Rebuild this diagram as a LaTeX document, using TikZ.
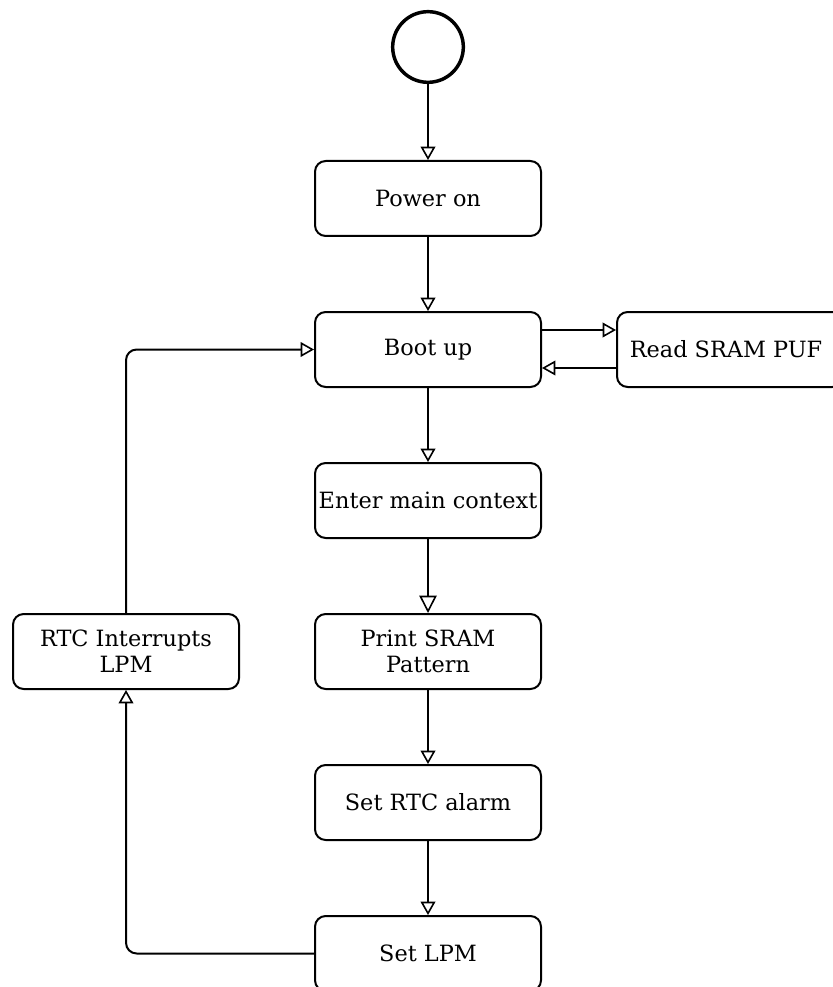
\documentclass[tikz,border=0pt]{standalone}
\usepackage{fontspec}
\setmainfont{DejaVu Serif}
\usetikzlibrary{arrows.meta}
\begin{document}
\begin{tikzpicture}[x=0.75pt,y=-0.75pt,
  box/.style={draw, line width=1.5pt, rounded corners=8pt, minimum width=169.5pt, minimum height=56.25pt, inner sep=0pt, align=center, font=\fontsize{16.8pt}{19.5pt}\selectfont},
  conn/.style={line width=1.5pt, -{Triangle[open, length=10pt, width=11pt, line width=1.2pt]}},
  bigconn/.style={line width=1.5pt, -{Triangle[open, length=13pt, width=13pt, line width=1.2pt]}}]
\useasboundingbox (0,0) rectangle (832,987);
\node[circle, draw, line width=2.6pt, minimum size=53pt, inner sep=0pt] (start) at (428,47) {};
\node[box] (power) at (428,198.5) {Power on};
\node[box] (boot) at (428,349.5) {Boot up};
\node[box] (puf) at (730,349.5) {\hspace*{-6pt}Read SRAM PUF};
\node[box] (enter) at (428,500.5) {Enter main context};
\node[box] (print) at (428,651.5) {Print SRAM\\Pattern};
\node[box] (rtcset) at (428,802.5) {Set RTC alarm};
\node[box] (lpm) at (428,953.5) {Set LPM};
\node[box] (rtc) at (126,651.5) {RTC Interrupts\\LPM};
\draw[conn] (start) -- (power);
\draw[conn] (power) -- (boot);
\draw[conn] (boot.east |- 0,330) -- (puf.west |- 0,330);
\draw[conn] (puf.west |- 0,368) -- (boot.east |- 0,368);
\draw[conn] (boot) -- (enter);
\draw[bigconn] (enter) -- (print);
\draw[conn] (print) -- (rtcset);
\draw[conn] (rtcset) -- (lpm);
\draw[conn, rounded corners=8pt] (lpm.west) -| (rtc.south);
\draw[conn, rounded corners=8pt] (rtc.north) |- (boot.west);
\end{tikzpicture}
\end{document}
